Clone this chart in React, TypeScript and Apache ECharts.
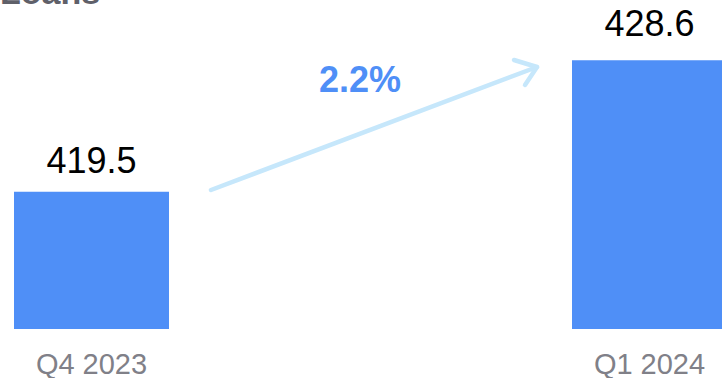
import React, { useEffect, useRef } from "react";
import * as echarts from "echarts";

const categories = ["Q4 2023", "Q1 2024"];
const loanValues = [419.5, 428.6];
const axisBase = 410;
const axisTop = 430;
const changeLabel = "2.2%";
const titleText = "Loans";

const FONT = "'Liberation Sans', Arial, sans-serif";
const BLUE = "#4f8ff7";

export default function App() {
  const ref = useRef<HTMLDivElement>(null);
  useEffect(() => {
    if (!ref.current) return;
    const chart = echarts.init(ref.current, null, { renderer: "svg" });
    chart.setOption({
      animation: false,
      backgroundColor: "#ffffff",
      grid: { left: 91.5, right: 72.5, top: 40, bottom: 47, containLabel: false },
      xAxis: {
        type: "category",
        data: categories,
        boundaryGap: false,
        axisLine: { show: false },
        axisTick: { show: false },
        splitLine: { show: false },
        axisLabel: {
          color: "#808088",
          fontSize: 29,
          fontFamily: FONT,
          margin: 20,
        },
      },
      yAxis: {
        type: "value",
        min: axisBase,
        max: axisTop,
        show: false,
        splitLine: { show: false },
      },
      series: [
        {
          type: "bar",
          stack: "loans",
          clip: false,
          barWidth: 155,
          silent: true,
          itemStyle: { color: "rgba(0,0,0,0)" },
          data: loanValues.map(() => axisBase),
        },
        {
          type: "bar",
          stack: "loans",
          clip: false,
          barWidth: 155,
          itemStyle: { color: BLUE },
          label: {
            show: true,
            position: "top",
            color: "#000000",
            fontSize: 36,
            fontFamily: FONT,
            formatter: (p: any) => loanValues[p.dataIndex].toFixed(1),
          },
          data: loanValues.map((v, i) => ({
            value: +(v - axisBase).toFixed(1),
            label: { distance: i === 0 ? 13 : 19 },
          })),
        },
      ],
      graphic: [
        {
          type: "text",
          x: 0,
          y: -8,
          style: {
            text: titleText,
            font: `bold 34px ${FONT}`,
            fill: "#5f6069",
            verticalAlign: "middle",
            align: "left",
          },
        },
        {
          type: "text",
          x: 360,
          y: 79,
          style: {
            text: changeLabel,
            font: `bold 36px ${FONT}`,
            fill: BLUE,
            verticalAlign: "middle",
            align: "center",
          },
        },
        {
          type: "line",
          shape: { x1: 211, y1: 190, x2: 537, y2: 67 },
          style: { stroke: "#c6e7fb", lineWidth: 4.5, lineCap: "round" },
        },
        {
          type: "polyline",
          shape: { points: [[514, 60], [537, 67], [525, 85]] },
          style: { stroke: "#c6e7fb", lineWidth: 4.5, lineCap: "round", lineJoin: "round", fill: "none" },
        },
      ],
    });
    return () => chart.dispose();
  }, []);
  return (
    <div
      ref={ref}
      style={{ position: "fixed", left: 0, top: 0, width: 722, height: 378 }}
    />
  );
}
